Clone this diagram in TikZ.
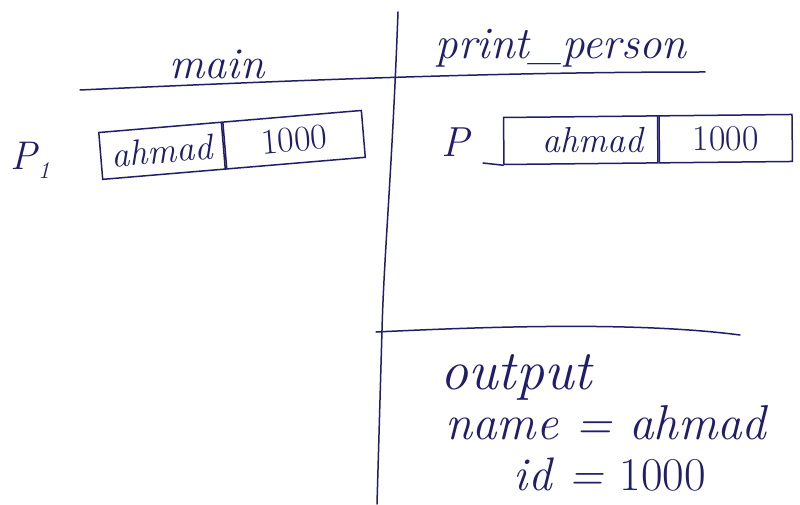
\documentclass[tikz,border=0pt]{standalone}
\usepackage{tikz}
\definecolor{ink}{RGB}{32,30,105}
\tikzset{
  pen/.style={draw=ink, line width=1.5pt, line cap=round},
  cell/.style={draw=ink, line width=1.5pt, minimum height=47pt, inner sep=0pt, text=ink, font=\fontsize{36}{36}\selectfont\itshape},
  hand/.style={text=ink, inner sep=0pt},
}
\begin{document}
\begin{tikzpicture}[x=1pt,y=1pt]
\useasboundingbox[fill=white] (0,0) rectangle (800,504);
% frame lines
\coordinate (vtop) at (398,492);
\coordinate (vmid) at (382,174);
\coordinate (vbot) at (377,0);
\coordinate (hl) at (80,414);
\coordinate (hr) at (705,432);
\coordinate (ol) at (376,172);
\coordinate (or) at (740,169);
\draw[pen] (vtop) .. controls (392,330) and (384,250) .. (vmid) -- (vbot);
\draw[pen] (hl) .. controls (300,424) and (500,432) .. (hr);
\draw[pen] (ol) .. controls (500,178) and (640,182) .. (or);
% headings
\node[hand, font=\fontsize{44}{44}\selectfont\itshape] (main) at (217,440) {main};
\node[hand, font=\fontsize{45}{45}\selectfont\itshape] (pp) at (561,456) {print\_person};
% main's variable
\node[hand, font=\fontsize{40}{40}\selectfont\itshape] (p1) at (30,344) {P\kern1pt\raisebox{-9pt}{\fontsize{24}{24}\selectfont 1}};
\node[cell, minimum width=123pt, rotate=4.8, anchor=west] (lname) at (100,348) {ahmad};
\node[cell, minimum width=139pt, rotate=4.8, anchor=west] (lid) at (lname.east) {\upshape 1000};
% print_person's parameter
\node[hand, font=\fontsize{42}{42}\selectfont\itshape] (p) at (455,362) {P};
\node[cell, minimum width=154pt, rotate=0.6, anchor=west] (rname) at (503,363) {\hspace*{24pt}ahmad};
\node[cell, minimum width=133pt, rotate=0.6, anchor=west] (rid) at (rname.east) {\upshape 1000};
\coordinate (stub) at (483,341);
\draw[pen] (stub) -- (rname.south west);
% output
\node[hand, font=\fontsize{56}{56}\selectfont\itshape] (out) at (516,127) {output};
\node[hand, font=\fontsize{49}{49}\selectfont\itshape] (nm) at (606,81) {name = ahmad};
\node[hand, font=\fontsize{47}{47}\selectfont\itshape] (id) at (610,29) {id = \upshape 1000};
\end{tikzpicture}
\end{document}
